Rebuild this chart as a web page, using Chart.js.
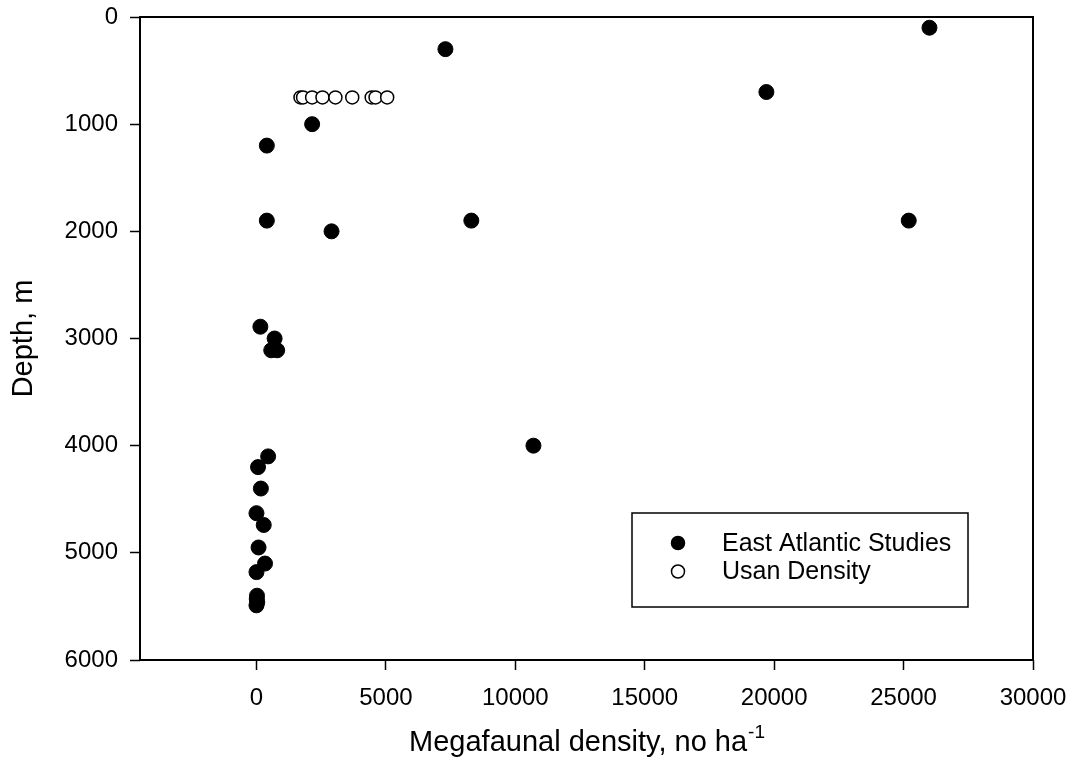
<!DOCTYPE html>
<html>
<head>
<meta charset="utf-8">
<script src="https://cdn.jsdelivr.net/npm/chart.js@4.4.0/dist/chart.umd.min.js"></script>
<style>
  html, body { margin: 0; padding: 0; background: #fff; }
</style>
</head>
<body>
<canvas id="chart" width="1073" height="773"></canvas>
<script>
// East Atlantic literature values (density in no/ha, depth in m)
const eastDensity = [26000, 7300, 19700, 2150, 400, 400, 8300, 25200, 2900,
  150, 700, 570, 800, 10700, 450, 60, 170, 0, 280, 80, 330, 0, 20, 10, 30, 0];
const eastDepth = [100, 300, 700, 1000, 1200, 1900, 1900, 1900, 2000,
  2890, 3000, 3110, 3110, 4000, 4100, 4200, 4400, 4630, 4740, 4950, 5100, 5180, 5400, 5430, 5460, 5490];

// Usan survey, all at the same depth
const usanDensity = [1700, 1800, 2150, 2550, 3050, 3700, 4450, 4600, 5050];
const usanDepth = [750, 750, 750, 750, 750, 750, 750, 750, 750];

const seriesNames = ["East Atlantic Studies", "Usan Density"];
const xTicks = [0, 5000, 10000, 15000, 20000, 25000, 30000];
const yTicks = [0, 1000, 2000, 3000, 4000, 5000, 6000];
const xTitle = "Megafaunal density, no ha";
const xTitleSup = "-1";
const yTitle = "Depth, m";

const FONT = "'Liberation Sans', Arial, Helvetica, sans-serif";

const toPoints = (xs, ys) => xs.map((x, i) => ({ x: x, y: ys[i] }));

// box round the plot, legend inside it, and the x title with its superscript
const framePlugin = {
  id: "frame",
  afterDraw(chart) {
    const ctx = chart.ctx;
    const a = chart.chartArea;
    ctx.save();
    ctx.strokeStyle = "#000";
    ctx.lineWidth = 2;
    ctx.strokeRect(a.left, a.top, a.right - a.left, a.bottom - a.top);

    // legend
    const lx = 632, ly = 513, lw = 336, lh = 94;
    ctx.lineWidth = 1.5;
    ctx.strokeRect(lx, ly, lw, lh);
    ctx.font = "25px " + FONT;
    ctx.textBaseline = "middle";
    ctx.textAlign = "left";
    chart.data.datasets.forEach((ds, i) => {
      const cy = 543 + i * 28.5;
      ctx.beginPath();
      ctx.arc(678, cy, 6.5, 0, Math.PI * 2);
      ctx.fillStyle = ds.backgroundColor;
      ctx.fill();
      ctx.lineWidth = 1.5;
      ctx.strokeStyle = "#000";
      ctx.stroke();
      ctx.fillStyle = "#000";
      ctx.fillText(ds.label, 722, cy + 1);
    });

    // x axis title
    ctx.font = "29px " + FONT;
    const w1 = ctx.measureText(xTitle).width;
    ctx.font = "19px " + FONT;
    const w2 = ctx.measureText(xTitleSup).width;
    const cx = (a.left + a.right) / 2;
    const startX = cx - (w1 + w2) / 2;
    ctx.fillStyle = "#000";
    ctx.textBaseline = "alphabetic";
    ctx.font = "29px " + FONT;
    ctx.fillText(xTitle, startX, 751);
    ctx.font = "19px " + FONT;
    ctx.fillText(xTitleSup, startX + w1 + 1, 738);
    ctx.restore();
  }
};

const plainNumber = v => String(v);

new Chart(document.getElementById("chart"), {
  type: "scatter",
  data: {
    datasets: [
      {
        label: seriesNames[0],
        data: toPoints(eastDensity, eastDepth),
        backgroundColor: "#000",
        borderColor: "#000",
        borderWidth: 1,
        pointRadius: 7.5,
        pointHoverRadius: 7.5
      },
      {
        label: seriesNames[1],
        data: toPoints(usanDensity, usanDepth),
        backgroundColor: "#fff",
        borderColor: "#000",
        borderWidth: 1.5,
        pointRadius: 6.5,
        pointHoverRadius: 6.5
      }
    ]
  },
  options: {
    responsive: false,
    animation: false,
    devicePixelRatio: 1,
    layout: { padding: { top: 17, right: 40, left: 0, bottom: 0 } },
    plugins: {
      legend: { display: false },
      tooltip: { enabled: false }
    },
    scales: {
      x: {
        type: "linear",
        min: -4500,
        max: 30000,
        border: { display: false },
        grid: {
          drawOnChartArea: false,
          drawTicks: true,
          tickLength: 10,
          tickColor: "#000",
          tickWidth: 1.5
        },
        ticks: {
          color: "#000",
          font: { family: FONT, size: 24 },
          padding: 14,
          maxRotation: 0,
          autoSkip: false,
          callback: plainNumber
        },
        afterBuildTicks(scale) {
          scale.ticks = xTicks.map(v => ({ value: v }));
        },
        afterFit(scale) {
          scale.height = 113;
          scale.paddingLeft = 0;
          scale.paddingRight = 0;
        }
      },
      y: {
        type: "linear",
        reverse: true,
        min: 0,
        max: 6000,
        border: { display: false },
        grid: {
          drawOnChartArea: false,
          drawTicks: true,
          tickLength: 10,
          tickColor: "#000",
          tickWidth: 1.5
        },
        title: {
          display: true,
          text: yTitle,
          color: "#000",
          font: { family: FONT, size: 29 },
          padding: { top: 7, bottom: 0 }
        },
        ticks: {
          color: "#000",
          font: { family: FONT, size: 24 },
          padding: 12,
          autoSkip: false,
          callback: plainNumber
        },
        afterBuildTicks(scale) {
          scale.ticks = yTicks.map(v => ({ value: v }));
        },
        afterFit(scale) {
          scale.width = 140;
          scale.paddingTop = 0;
          scale.paddingBottom = 0;
        }
      }
    }
  },
  plugins: [framePlugin]
});
</script>
</body>
</html>
